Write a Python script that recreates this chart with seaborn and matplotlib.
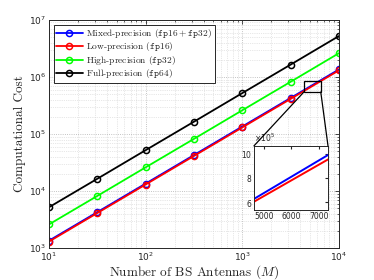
import numpy as np, pandas as pd
import matplotlib; matplotlib.use("Agg")
import matplotlib.pyplot as plt
import matplotlib.ticker as mticker
from matplotlib.patches import Rectangle, ConnectionPatch
import seaborn as sns

# ---------- data ----------
M = [10, 31.62, 100, 316.2, 1000, 3162, 10000]
mixed = [1.35e3, 4.27e3, 1.35e4, 4.27e4, 1.35e5, 4.27e5, 1.35e6]
low = [1.30e3, 4.11e3, 1.30e4, 4.11e4, 1.30e5, 4.11e5, 1.30e6]
high = [2.6e3, 8.2e3, 2.6e4, 8.2e4, 2.6e5, 8.2e5, 2.6e6]
full = [5.2e3, 1.64e4, 5.2e4, 1.64e5, 5.2e5, 1.64e6, 5.2e6]

labels = [r"Mixed-precision ($\mathtt{fp16}+\mathtt{fp32}$)",
          r"Low-precision ($\mathtt{fp16}$)",
          r"High-precision ($\mathtt{fp32}$)",
          r"Full-precision ($\mathtt{fp64}$)"]
colors = ["#0000ff", "#ff0000", "#00ff00", "#000000"]
series = [mixed, low, high, full]

zoom_box = (4350, 5.45e5, 6500, 8.5e5)   # x0, y0, x1, y1 of the zoom rectangle
inset_xlim = (4640, 7330)
inset_ylim = (5.35e5, 1.065e6)

sns.set_style("white")
plt.rcParams["font.family"] = "DejaVu Sans"
TXT = "#262626"

fig = plt.figure(figsize=(3.74, 2.80), dpi=100)
ax = fig.add_axes([0.131, 0.114, 0.775, 0.815])

for y, lab, c in zip(series, labels, colors):
    df = pd.DataFrame({"M": M, "cost": y})
    sns.lineplot(data=df, x="M", y="cost", ax=ax, color=c, lw=1.3, marker="o", ms=4.4,
                 mfc="none", mec=c, mew=1.1, label=lab)

ax.set_xscale("log"); ax.set_yscale("log")
ax.set_xlim(10, 1e4); ax.set_ylim(1e3, 1e7)
ax.grid(True, which="major", ls=":", lw=0.6, color="#b0b0b0")
ax.grid(True, which="minor", ls=":", lw=0.5, color="#d0d0d0")
ax.tick_params(which="both", direction="in", top=True, right=True, colors=TXT, labelsize=6.5, pad=2)
ax.tick_params(which="major", length=3, width=0.6)
ax.tick_params(which="minor", length=1.6, width=0.5)
for s in ax.spines.values():
    s.set_color(TXT); s.set_linewidth(0.7)
ax.set_xlabel(r"Number of BS Antennas ($M$)", family="cmr10", math_fontfamily="cm",
              fontsize=9.5, color=TXT, labelpad=0)
ax.set_ylabel("Computational Cost", family="cmr10", fontsize=9.5, color=TXT, labelpad=2)

leg = ax.legend(loc="upper left", prop={"family": "cmr10", "size": 6.8}, handlelength=2.8,
                borderaxespad=0.5, borderpad=0.25, labelspacing=0.05, handletextpad=0.4,
                fancybox=False, edgecolor=TXT, framealpha=1)
leg.get_frame().set_linewidth(0.7)
for t in leg.get_texts():
    t.set_math_fontfamily("cm")

# ---------- zoom rectangle + inset ----------
x0, y0, x1, y1 = zoom_box
ax.add_patch(Rectangle((x0, y0), x1 - x0, y1 - y0, fill=False, ec="k", lw=0.9, zorder=5))

axin = fig.add_axes([0.679, 0.25, 0.198, 0.229])
for y, c in zip([mixed, low], colors[:2]):
    sns.lineplot(x=M, y=y, ax=axin, color=c, lw=1.4)
axin.set_xlim(*inset_xlim); axin.set_ylim(*inset_ylim)
axin.set_xticks([5000, 6000, 7000]); axin.set_yticks([6e5, 8e5, 1e6])
axin.ticklabel_format(style="sci", axis="y", scilimits=(5, 5), useMathText=True)
axin.yaxis.get_offset_text().set_fontsize(5.5)
axin.tick_params(direction="in", top=True, right=True, colors=TXT, labelsize=5.5, length=2, pad=1.5)
axin.set_xlabel(""); axin.set_ylabel("")
for s in axin.spines.values():
    s.set_color(TXT); s.set_linewidth(0.7)

for xa, xb in [(x0, 0), (x1, 1)]:
    con = ConnectionPatch(xyA=(xa, y0), coordsA=ax.transData,
                          xyB=(xb, 1), coordsB=axin.transAxes, color="k", lw=0.9)
    fig.add_artist(con)

fig.savefig("out.png", dpi=100, facecolor="white")
